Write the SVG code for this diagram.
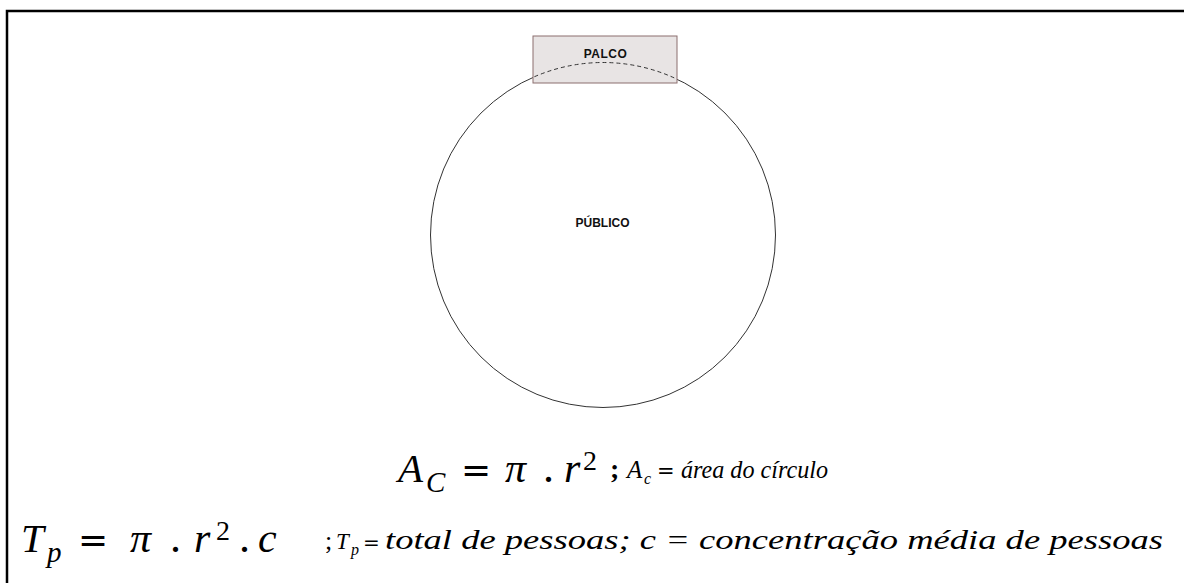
<svg xmlns="http://www.w3.org/2000/svg" width="1184" height="583" viewBox="0 0 1184 583">
<style>
.lbl{font-family:"Liberation Sans",Arial,sans-serif;font-weight:bold;font-size:12px;fill:#111;text-anchor:middle}
.m{font-family:"Liberation Serif","Times New Roman",serif;font-style:italic;fill:#000}
.u{font-family:"Liberation Serif","Times New Roman",serif;fill:#000}
.eq{font-family:"DejaVu Sans",sans-serif;fill:#000}
</style>
<defs>
<clipPath id="stageClip"><rect x="533" y="36" width="144" height="47"/></clipPath>
</defs>
<rect width="1184" height="583" fill="#fff"/>
<path d="M7,583 V11 H1184" fill="none" stroke="#000" stroke-width="2.5"/>
<g id="publico">
<circle cx="603" cy="235" r="172.5" fill="none" stroke="#333" stroke-width="1"/>
<text class="lbl" x="602.5" y="227">PÚBLICO</text>
</g>
<g id="palco">
<rect x="533" y="36" width="144" height="47" fill="#e8e4e4" stroke="#8b6f6f" stroke-width="1"/>
<circle cx="603" cy="235" r="172.5" fill="none" stroke="#333" stroke-width="1" stroke-dasharray="4,3" clip-path="url(#stageClip)"/>
<text class="lbl" x="605.5" y="58" letter-spacing="0.5">PALCO</text>
</g>
<g id="formula1">
<text class="m" x="398" y="482" font-size="41">A</text>
<text class="m" x="426" y="492" font-size="29">C</text>
<text class="eq" x="461" y="482" font-size="36">=</text>
<text class="m" x="505" y="482" font-size="42">π</text>
<text class="u" x="543" y="482" font-size="44">.</text>
<text class="m" x="564" y="482" font-size="42">r</text>
<text class="u" x="583" y="470" font-size="28">2</text>
<text class="u" x="610" y="478" font-size="28" font-weight="bold">;</text>
<text class="m" x="627" y="478" font-size="25">A</text>
<text class="m" x="644" y="484" font-size="16">c</text>
<text class="eq" x="657" y="478" font-size="21">=</text>
<text class="m" x="681" y="478" font-size="25" textLength="147" lengthAdjust="spacingAndGlyphs">área do círculo</text>
</g>
<g id="formula2">
<text class="m" x="21" y="552" font-size="41">T</text>
<text class="m" x="47" y="562" font-size="29">p</text>
<text class="eq" x="78" y="552" font-size="36">=</text>
<text class="m" x="130" y="552" font-size="42">π</text>
<text class="u" x="170" y="552" font-size="44">.</text>
<text class="m" x="194" y="552" font-size="42">r</text>
<text class="u" x="216" y="540" font-size="28">2</text>
<text class="u" x="239" y="552" font-size="44">.</text>
<text class="m" x="258" y="552" font-size="42">c</text>
<text class="u" x="325" y="549" font-size="26">;</text>
<text class="m" x="336" y="549" font-size="23">T</text>
<text class="m" x="351" y="555" font-size="16">p</text>
<text class="eq" x="363" y="549" font-size="20">=</text>
<text class="m" x="385" y="549" font-size="27" textLength="778" lengthAdjust="spacingAndGlyphs">total de pessoas; c = concentração média de pessoas</text>
</g>
</svg>
